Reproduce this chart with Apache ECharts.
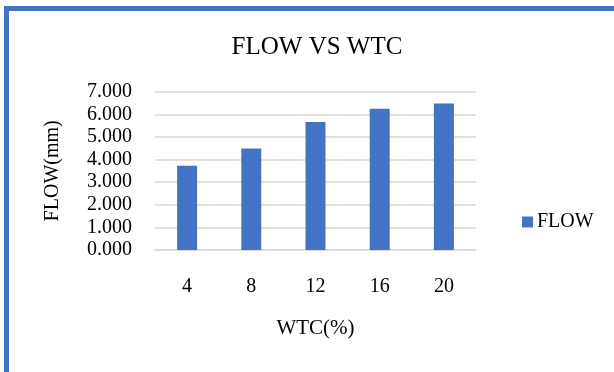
<!DOCTYPE html>
<html>
<head>
<meta charset="utf-8">
<script src="https://cdn.jsdelivr.net/npm/echarts@6/dist/echarts.min.js"></script>
<style>
  html, body { margin: 0; padding: 0; background: #ffffff; }
  #chart { width: 614px; height: 372px; }
</style>
</head>
<body>
<div id="chart"></div>
<script>
// WTC content (%) on the horizontal axis
const categories = ['4', '8', '12', '16', '20'];
// measured flow (mm) for each WTC content
const flowValues = [3.73, 4.49, 5.66, 6.25, 6.48];

const serif = 'Liberation Serif, Times New Roman, serif';
const blue = '#4472C4';

const chart = echarts.init(document.getElementById('chart'), null, { renderer: 'canvas' });

chart.setOption({
  backgroundColor: '#ffffff',
  animation: false,
  title: {
    text: 'FLOW VS WTC',
    left: 312,
    top: 30,
    textAlign: 'center',
    textStyle: { fontFamily: serif, fontSize: 25, fontWeight: 'normal', color: '#000000' }
  },
  legend: {
    data: ['FLOW'],
    left: 517,
    top: 207,
    itemWidth: 11,
    itemHeight: 11,
    icon: 'rect',
    textStyle: { fontFamily: serif, fontSize: 20, color: '#000000', padding: [0, 0, 0, -1] }
  },
  grid: { left: 155, right: 138, top: 91.7, bottom: 122, containLabel: false },
  xAxis: {
    type: 'category',
    data: categories,
    name: 'WTC(%)',
    nameLocation: 'middle',
    nameGap: 68,
    nameTextStyle: { fontFamily: serif, fontSize: 21, color: '#000000' },
    axisLine: { show: true, lineStyle: { color: '#d9d9d9', width: 1.5 } },
    axisTick: { show: false },
    axisLabel: { margin: 27, fontFamily: serif, fontSize: 20, color: '#000000' }
  },
  yAxis: {
    type: 'value',
    min: 0,
    max: 7,
    interval: 1,
    name: 'FLOW(mm)',
    nameLocation: 'middle',
    nameGap: 92,
    nameTextStyle: { fontFamily: serif, fontSize: 20, color: '#000000' },
    axisLine: { show: false },
    axisTick: { show: false },
    axisLabel: {
      margin: 23,
      fontFamily: serif,
      fontSize: 20,
      color: '#000000',
      formatter: v => v.toFixed(3)
    },
    splitLine: { lineStyle: { color: '#d9d9d9', width: 1.5 } }
  },
  series: [{
    name: 'FLOW',
    type: 'bar',
    data: flowValues,
    barWidth: 20,
    itemStyle: { color: blue }
  }],
  graphic: [{
    type: 'rect',
    silent: true,
    shape: { x: 6.5, y: 8.5, width: 800, height: 600 },
    style: { fill: 'none', stroke: blue, lineWidth: 5 }
  }]
});
</script>
</body>
</html>
